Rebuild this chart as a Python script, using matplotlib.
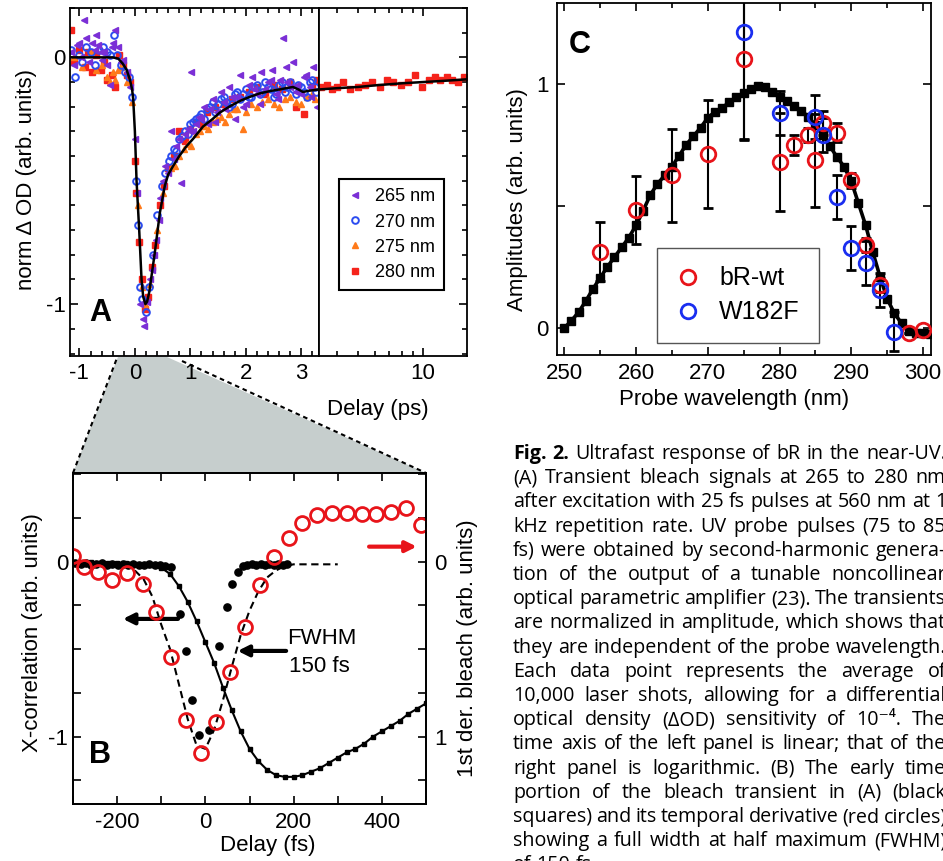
import matplotlib
matplotlib.use("Agg")
import numpy as np
import matplotlib.pyplot as plt
from matplotlib.patches import Polygon
from matplotlib.lines import Line2D
from matplotlib.ticker import MultipleLocator, FixedLocator, NullFormatter

plt.rcParams['font.family'] = ['Liberation Sans', 'DejaVu Sans']
plt.rcParams['axes.unicode_minus'] = False
plt.rcParams['axes.linewidth'] = 1.3

W, H = 943, 861

#%% DATA
# (A) normalized transient bleach, delay in ps
t_265 = [-1.15, -1.1, -1.05, -0.98, -0.92, -0.88, -0.82, -0.78, -0.72, -0.66, -0.6, -0.55, -0.5, -0.45, -0.4, -0.35, -0.3, -0.22, -0.15, -0.08,
         0.0, 0.03, 0.1, 0.14, 0.16, 0.22, 0.27, 0.3, 0.35, 0.38, 0.43, 0.46, 0.5, 0.55, 0.6,
         0.66, 0.75, 0.8, 0.84, 0.95, 1.02, 1.05, 1.15, 1.25, 1.32, 1.4, 1.48, 1.55, 1.62, 1.7, 1.8, 1.85, 1.9, 2.0, 2.05,
         2.12, 2.2, 2.28, 2.35, 2.4, 2.48, 2.55, 2.62, 2.67, 2.72, 2.8, 2.85, 2.92, 3.0, 3.08, 3.15, 3.22, 3.28,
         0.7, 0.9, 1.0, 1.1, 1.2, 1.35, 1.45, 1.6, 1.75, 1.95, 2.15, 2.25, 2.45, 2.58, 2.75, 2.9, 3.05, 3.18,
         -1.0, -0.7, -0.62, -0.42, -0.25]
dod_265 = [0.02, -0.03, 0.05, 0.0, 0.15, 0.08, -0.02, 0.06, 0.03, 0.05, -0.01, 0.02, -0.03, -0.11, 0.06, 0.11, 0.04, -0.01, -0.06, -0.12,
           -0.33, -0.55, -1.0, -1.06, -1.09, -0.99, -0.9, -0.86, -0.8, -0.74, -0.66, -0.57, -0.5, -0.44, -0.47,
           -0.3, -0.36, -0.33, -0.51, -0.29, -0.06, -0.3, -0.24, -0.2, -0.27, -0.17, -0.22, -0.14, -0.21, -0.12, -0.25, -0.16, -0.07, -0.19, -0.11,
           -0.08, -0.15, -0.06, -0.13, -0.1, -0.05, -0.15, -0.09, 0.08, -0.04, -0.12, -0.02, -0.11, -0.15, -0.07, -0.12, -0.04, -0.2,
           -0.41, -0.31, -0.3, -0.27, -0.25, -0.21, -0.26, -0.18, -0.16, -0.2, -0.13, -0.19, -0.09, -0.17, -0.1, -0.14, -0.08, -0.16,
           0.06, 0.09, 0.02, 0.04, -0.02]

t_270 = [-1.15, -1.08, -1.0, -0.95, -0.88, -0.8, -0.72, -0.65, -0.58, -0.5, -0.44, -0.38, -0.32, -0.25, -0.18, -0.1,
         -0.05, 0.02, 0.05, 0.1, 0.13, 0.2, 0.25, 0.32, 0.4, 0.48, 0.55, 0.62,
         0.7, 0.8, 0.9, 1.0, 1.1, 1.2, 1.3, 1.4, 1.5, 1.6, 1.7, 1.8, 1.9, 2.0, 2.1, 2.2, 2.3, 2.4, 2.5, 2.6, 2.7, 2.8,
         2.9, 3.0, 3.1, 3.2, 3.27,
         0.65, 0.75, 0.85, 0.95, 1.05, 1.15, 1.25, 1.35, 1.45, 1.55, 1.65, 1.75, 1.85, 1.95, 2.05, 2.15, 2.25, 2.35,
         2.45, 2.55, 2.65, 2.75, 2.85, 2.95, 3.05, 3.15, 3.25]
dod_270 = [0.03, -0.08, 0.01, -0.02, 0.04, 0.02, -0.03, 0.03, 0.04, 0.02, 0.01, 0.09, 0.01, -0.03, -0.06, -0.08,
           -0.16, -0.5, -0.68, -0.93, -0.98, -1.03, -0.93, -0.8, -0.64, -0.52, -0.47, -0.42,
           -0.37, -0.33, -0.3, -0.27, -0.25, -0.23, -0.21, -0.18, -0.19, -0.16, -0.2, -0.15, -0.17, -0.13, -0.16, -0.11, -0.14, -0.12, -0.16, -0.11, -0.14, -0.1,
           -0.15, -0.12, -0.16, -0.09, -0.14,
           -0.4, -0.38, -0.32, -0.31, -0.26, -0.24, -0.25, -0.2, -0.22, -0.17, -0.18, -0.19, -0.14, -0.15, -0.16, -0.12, -0.15, -0.1,
           -0.13, -0.15, -0.1, -0.12, -0.13, -0.11, -0.14, -0.1, -0.12]

t_275 = [-1.1, -0.95, -0.8, -0.7, -0.6, -0.5, -0.45, -0.4, -0.35, -0.3, -0.25, -0.15, -0.05,
         0.05, 0.12, 0.18, 0.28, 0.4, 0.5,
         0.65, 0.8, 0.95, 1.1, 1.25, 1.4, 1.55, 1.7, 1.85, 1.95, 2.1, 2.3, 2.5, 2.7, 2.9, 3.1, 3.25,
         0.72, 0.88, 1.02, 1.18, 1.32, 1.48, 1.62, 1.78, 2.0, 2.2, 2.4, 2.6, 2.8, 3.0, 3.2]
dod_275 = [0.0, -0.04, 0.02, -0.05, -0.03, -0.08, -0.1, -0.06, -0.09, -0.05, -0.04, -0.1, -0.18,
           -0.6, -0.93, -1.0, -0.92, -0.7, -0.55,
           -0.45, -0.4, -0.35, -0.31, -0.28, -0.26, -0.24, -0.23, -0.21, -0.29, -0.19, -0.18, -0.19, -0.17, -0.18, -0.16, -0.17,
           -0.44, -0.37, -0.36, -0.3, -0.29, -0.25, -0.26, -0.21, -0.22, -0.2, -0.17, -0.2, -0.16, -0.19, -0.15]

t_280 = [-1.16, -1.1, -1.0, -0.9, -0.85, -0.78, -0.7, -0.62, -0.55, -0.5, -0.42, -0.35, -0.28, -0.22, -0.15, -0.08,
         0.0, 0.02, 0.08, 0.12, 0.18, 0.24, 0.3, 0.36, 0.45, 0.52,
         0.6, 0.7, 0.8, 0.9, 1.0, 1.1, 1.2, 1.3, 1.45, 1.6, 1.75, 1.9, 2.05, 2.2, 2.35, 2.5, 2.65, 2.8, 2.9, 3.05, 3.2, 3.28,
         3.4, 3.6, 3.8, 4.0, 4.3, 4.6, 5.0, 5.4, 5.8, 6.3, 6.8, 7.3, 7.9, 8.5, 9.2, 9.9, 10.6, 11.3, 12.0, 12.8, 13.6, 14.5, 15.4]
dod_280 = [0.11, -0.02, 0.03, -0.04, 0.02, -0.06, 0.01, -0.05, -0.02, -0.09, -0.07, -0.12, 0.01, -0.03, -0.07, -0.1,
           -0.42, -0.55, -0.75, -0.9, -1.02, -0.97, -0.85, -0.76, -0.6, -0.52,
           -0.45, -0.4, -0.3, -0.34, -0.29, -0.26, -0.27, -0.22, -0.2, -0.19, -0.17, -0.16, -0.14, -0.12, -0.15, -0.11, -0.13, -0.1, -0.2, -0.23, -0.12, -0.09,
           -0.12, -0.11, -0.13, -0.12, -0.1, -0.13, -0.12, -0.11, -0.1, -0.12, -0.09, -0.1, -0.11, -0.1, -0.07, -0.12, -0.09, -0.08, -0.09, -0.08, -0.09, -0.1, -0.08]

# global fit through all wavelengths
fit_t = [-1.17, -0.4, -0.3, -0.22, -0.15, -0.09, -0.05, -0.03, 0.0, 0.03, 0.08, 0.12, 0.15, 0.19, 0.22, 0.26, 0.31, 0.36,
         0.45, 0.54, 0.6, 0.69, 0.8, 0.93, 1.05, 1.23, 1.4, 1.53, 1.7, 1.89, 2.05, 2.25, 2.45, 2.61, 2.75, 2.85, 2.95,
         3.03, 3.15, 3.32, 4.0, 5.0, 6.1, 8.0, 10.0, 12.5, 15.9]
fit_y = [0.0, 0.0, -0.005, -0.025, -0.05, -0.09, -0.13, -0.17, -0.3, -0.5, -0.71, -0.9, -0.97, -1.0, -0.99, -0.95, -0.87, -0.79,
         -0.63, -0.52, -0.475, -0.44, -0.4, -0.36, -0.33, -0.28, -0.25, -0.224, -0.2, -0.177, -0.162, -0.146, -0.136, -0.13, -0.124, -0.12, -0.13,
         -0.14, -0.135, -0.13, -0.125, -0.12, -0.113, -0.105, -0.1, -0.095, -0.089]

# (B) early-time bleach (fs), cross-correlation and derivative
bleach_fs = [-300, -280, -260, -240, -220, -200, -180, -160, -140, -120, -100, -80, -60, -40, -20, 0, 20, 40, 60, 80,
             100, 120, 140, 160, 180, 200, 220, 240, 260, 280, 300, 320, 340, 360, 380, 400, 420, 440, 460, 480, 500]
bleach = [0.0, 0.0, 0.0, -0.005, -0.01, -0.01, -0.01, -0.015, -0.02, -0.02, -0.035, -0.07, -0.14, -0.23, -0.34, -0.46, -0.58, -0.72, -0.85, -0.97,
          -1.07, -1.14, -1.19, -1.22, -1.23, -1.23, -1.22, -1.2, -1.18, -1.15, -1.12, -1.09, -1.07, -1.04, -1.0, -0.97, -0.94, -0.91, -0.87, -0.84, -0.81]

xcorr_fs = [-295, -283, -271, -259, -247, -235, -223, -211, -199, -187, -175, -163, -151, -139, -127, -115, -103, -91, -79,
            -58, -45, -30, -15, 8, 32, 50, 60, 74,
            85, 95, 105, 115, 125, 135, 145, 155, 165, 175, 185]
xcorr = [-0.01, -0.015, -0.01, -0.02, -0.015, -0.01, -0.02, -0.015, -0.02, -0.015, -0.02, -0.015, -0.02, -0.02, -0.015, -0.02, -0.02, -0.025, -0.03,
         -0.3, -0.51, -0.79, -0.99, -0.96, -0.48, -0.26, -0.13, -0.06,
         -0.025, -0.02, -0.015, -0.02, -0.015, -0.02, -0.015, -0.02, -0.015, -0.02, -0.015]

gauss_fs = [-160, -140, -120, -100, -80, -60, -40, -20, 0, 20, 40, 60, 80, 100, 120, 140, 160, 180, 200, 300]
gauss = [-0.05, -0.1, -0.2, -0.36, -0.5, -0.7, -0.9, -1.05, -1.07, -0.96, -0.79, -0.6, -0.42, -0.28, -0.17, -0.09, -0.05, -0.025, -0.015, -0.015]

deriv_fs = [-300, -276, -244, -212, -178, -142, -111, -77, -43, -11, 23, 56, 89, 123, 155, 190, 220, 254, 288, 322, 356, 386, 420, 454, 488]
deriv = [-0.03, 0.03, 0.057, 0.105, 0.067, 0.13, 0.285, 0.543, 0.905, 1.095, 0.914, 0.629, 0.371, 0.133, -0.029, -0.134, -0.223, -0.267, -0.277, -0.277, -0.271, -0.271, -0.286, -0.305, -0.21]

# (C) amplitude spectra
c_wl = [250, 251, 252, 253, 254, 255, 256, 257, 258, 259, 260, 261, 262, 263, 264, 265, 266, 267, 268, 269, 270, 271, 272, 273, 274, 275,
        276, 277, 278, 279, 280, 281, 282, 283, 284, 285, 286, 287, 288, 289, 290, 291, 292, 293, 294, 295, 296, 297, 298, 299, 300, 301]
c_amp = [0.0, 0.03, 0.065, 0.11, 0.16, 0.205, 0.25, 0.29, 0.33, 0.37, 0.42, 0.48, 0.545, 0.59, 0.625, 0.66, 0.705, 0.75, 0.785, 0.82, 0.86, 0.885, 0.9, 0.925, 0.945, 0.96,
         0.98, 0.99, 0.985, 0.965, 0.945, 0.93, 0.91, 0.89, 0.865, 0.83, 0.79, 0.745, 0.7, 0.66, 0.6, 0.51, 0.42, 0.31, 0.21, 0.12, 0.06, 0.02, -0.01, -0.02, -0.02, -0.025]

wt_wl = [255, 260, 265, 270, 275, 280, 282, 284, 285, 286, 288, 290, 292, 294, 298, 300]
wt_amp = [0.313, 0.483, 0.626, 0.712, 1.102, 0.68, 0.748, 0.79, 0.687, 0.84, 0.80, 0.605, 0.34, 0.177, -0.02, -0.007]
wt_err = [0.12, 0.14, 0.19, 0.22, 0.33, 0.2, 0.04, 0.03, 0.19, 0.05, 0.04, 0.03, 0.03, 0.03, 0.0, 0.0]

mut_wl = [275, 280, 285, 286, 288, 290, 292, 294, 296]
mut_amp = [1.211, 0.88, 0.864, 0.79, 0.537, 0.327, 0.265, 0.156, -0.014]
mut_err = [0.44, 0.09, 0.09, 0.07, 0.09, 0.09, 0.09, 0.07, 0.08]

caption = [
    "Fig. 2. Ultrafast response of bR in the near-UV.",
    "(A) Transient bleach signals at 265 to 280 nm",
    "after excitation with 25 fs pulses at 560 nm at 1",
    "kHz repetition rate. UV probe pulses (75 to 85",
    "fs) were obtained by second-harmonic genera-",
    "tion of the output of a tunable noncollinear",
    "optical parametric amplifier (23). The transients",
    "are normalized in amplitude, which shows that",
    "they are independent of the probe wavelength.",
    "Each data point represents the average of",
    "10,000 laser shots, allowing for a differential",
    "optical density (\u0394OD) sensitivity of 10\u207b\u2074. The",
    "time axis of the left panel is linear; that of the",
    "right panel is logarithmic. (B) The early time",
    "portion of the bleach transient in (A) (black",
    "squares) and its temporal derivative (red circles),",
    "showing a full width at half maximum (FWHM)",
    "of 150 fs.",
]

#%% FIGURE
fig = plt.figure(figsize=(W / 100, H / 100), dpi=100)


def rect(x0, y0, x1, y1):
    # pixel box (top-left origin) -> figure fraction
    return [x0 / W, 1 - y1 / H, (x1 - x0) / W, (y1 - y0) / H]


def fx(x):
    return x / W


def fy(y):
    return 1 - y / H


LBL = 16
RED = '#e8141a'
BLUE = '#1a2ef0'

# ---------- panel A ----------
axA = fig.add_axes(rect(70, 8, 319, 356))
axL = fig.add_axes(rect(319, 8, 467, 356))

a_series = [
    ('280 nm', t_280, dod_280, dict(marker='s', color='#f5231b', ms=4.4, ls='none')),
    ('275 nm', t_275, dod_275, dict(marker='^', color='#ff7a1a', ms=5, ls='none')),
    ('270 nm', t_270, dod_270, dict(marker='o', mfc='none', mec='#2b4cf0', mew=1.4, ms=4.8, ls='none')),
    ('265 nm', t_265, dod_265, dict(marker='<', color='#7b2fd6', ms=5, ls='none')),
]
for name, t, y, st in a_series:
    t = np.asarray(t)
    y = np.asarray(y)
    lin = t <= 3.32
    axA.plot(t[lin], y[lin], **st)
    axL.plot(t[~lin], y[~lin], **st)

ft = np.asarray(fit_t)
fyv = np.asarray(fit_y)
axA.plot(ft[ft <= 3.32], fyv[ft <= 3.32], color='k', lw=1.8, zorder=5)
axL.plot(ft[ft >= 3.32], fyv[ft >= 3.32], color='k', lw=1.8, zorder=5)

for ax in (axA, axL):
    ax.set_ylim(-1.21, 0.2)
    ax.set_yticks([-1, 0])
    ax.yaxis.set_minor_locator(MultipleLocator(0.1))
    ax.tick_params(which='both', direction='in', top=True, width=1.2, labelsize=LBL)
    ax.tick_params(which='major', length=6, pad=5)
    ax.tick_params(which='minor', length=3.5)

axA.set_xlim(-1.17, 3.32)
axA.set_xticks([-1, 0, 1, 2, 3])
axA.xaxis.set_minor_locator(MultipleLocator(0.2))
axA.tick_params(axis='y', which='both', right=False, pad=3)

axL.set_xscale('log')
axL.set_xlim(3.32, 15.9)
axL.xaxis.set_major_locator(FixedLocator([10]))
axL.set_xticklabels(['10'])
axL.xaxis.set_minor_locator(FixedLocator([4, 5, 6, 7, 8, 9]))
axL.xaxis.set_minor_formatter(NullFormatter())
axL.tick_params(axis='y', which='both', left=False, labelleft=False, right=True)

handles = [Line2D([], [], **st) for _, _, _, st in a_series[::-1]]
labels = [name for name, _, _, _ in a_series[::-1]]
legA = axL.legend(handles, labels, loc='lower left', bbox_to_anchor=(0.135, 0.19), borderaxespad=0,
                  fontsize=13, fancybox=False, edgecolor='k', framealpha=1, handlelength=0.8,
                  handletextpad=0.7, borderpad=0.5, labelspacing=0.45)
legA.get_frame().set_linewidth(1.5)

fig.text(fx(100), fy(313), 'A', fontsize=22, fontweight='bold', ha='center', va='center')
fig.text(fx(27), fy(180), 'norm \u0394 OD (arb. units)', rotation=90, fontsize=LBL, ha='center', va='center')
fig.text(fx(378), fy(409), 'Delay (ps)', fontsize=LBL, ha='center', va='center')

# zoom wedge from A down to B
wedge = Polygon([[fx(118), fy(357)], [fx(167), fy(357)], [fx(426), fy(473)], [fx(73), fy(473)]],
                closed=True, transform=fig.transFigure, facecolor='#c6cecd', edgecolor='none', zorder=-1)
fig.add_artist(wedge)
fig.add_artist(Line2D([fx(73), fx(117)], [fy(473), fy(358)], transform=fig.transFigure,
                      color='k', lw=1.5, ls=(0, (2.2, 1.8)), zorder=-0.5))
fig.add_artist(Line2D([fx(182), fx(426)], [fy(361), fy(473)], transform=fig.transFigure,
                      color='k', lw=1.5, ls=(0, (2.2, 1.8)), zorder=-0.5))

# ---------- panel B ----------
axB = fig.add_axes(rect(73, 473, 426, 804))
axB.plot(bleach_fs, bleach, color='k', lw=1.5, marker='s', ms=3)
axB.plot(xcorr_fs, xcorr, 'o', color='k', ms=5.2, ls='none')
axB.plot(gauss_fs, gauss, color='k', lw=1.5, ls=(0, (3.5, 2.2)))
axB.set_xlim(-300, 500)
axB.set_ylim(-1.385, 0.507)
axB.set_xticks([-200, 0, 200, 400])
axB.xaxis.set_minor_locator(MultipleLocator(100))
axB.set_yticks([-1, 0])
axB.yaxis.set_minor_locator(MultipleLocator(0.25))
axB.tick_params(which='both', direction='in', top=True, right=False, width=1.2, length=6, labelsize=LBL)
axB.tick_params(axis='x', pad=6)

axBr = axB.twinx()
axBr.plot(deriv_fs, deriv, 'o', mfc='none', mec=RED, mew=2, ms=10, ls='none')
axBr.set_ylim(1.385, -0.507)
axBr.set_yticks([0, 1])
axBr.yaxis.set_minor_locator(MultipleLocator(0.25))
axBr.tick_params(which='both', direction='in', width=1.2, length=6, labelsize=LBL, pad=6)

arrow = dict(arrowstyle='-|>', lw=3, mutation_scale=16, shrinkA=0, shrinkB=0)
axB.annotate('', xy=(-187, -0.327), xytext=(-62, -0.327), arrowprops=dict(arrow, color='k'))
axB.annotate('', xy=(479, 0.086), xytext=(371, 0.086), arrowprops=dict(arrow, color=RED))
axB.annotate('', xy=(73, -0.51), xytext=(183, -0.51), arrowprops=dict(arrow, color='k'))
axB.text(186, -0.44, 'FWHM', fontsize=LBL, ha='left', va='center')
axB.text(190, -0.6, '150 fs', fontsize=LBL, ha='left', va='center')

fig.text(fx(100), fy(755), 'B', fontsize=22, fontweight='bold', ha='center', va='center')
fig.text(fx(33), fy(633), 'X-correlation (arb. units)', rotation=90, fontsize=LBL, ha='center', va='center')
fig.text(fx(467), fy(648), '1st der. bleach (arb. units)', rotation=90, fontsize=LBL, ha='center', va='center')
fig.text(fx(268), fy(845), 'Delay (fs)', fontsize=LBL, ha='center', va='center')

# ---------- panel C ----------
axC = fig.add_axes(rect(557, 3, 931, 355))
axC.plot(c_wl, c_amp, color='k', lw=2.6, marker='s', ms=5.5, zorder=2)
axC.errorbar(wt_wl, wt_amp, yerr=wt_err, fmt='o', mfc='none', mec=RED, mew=2, ms=10.5,
             ecolor='k', elinewidth=1.5, capsize=3.5, capthick=1.5, zorder=3)
axC.errorbar(mut_wl, mut_amp, yerr=mut_err, fmt='o', mfc='none', mec=BLUE, mew=2, ms=10.5,
             ecolor='k', elinewidth=1.5, capsize=3.5, capthick=1.5, zorder=3)
axC.set_xlim(249, 301.1)
axC.set_ylim(-0.11, 1.33)
axC.set_xticks([250, 260, 270, 280, 290, 300])
axC.xaxis.set_minor_locator(MultipleLocator(5))
axC.set_yticks([0, 0.5, 1])
axC.set_yticklabels(['0', '', '1'])
axC.tick_params(which='both', direction='in', top=True, right=True, width=1.2, labelsize=LBL)
axC.tick_params(which='major', length=6, pad=6)
axC.tick_params(which='minor', length=3.5)

c_handles = [Line2D([], [], marker='o', mfc='none', mec=RED, mew=2, ms=10.5, ls='none'),
             Line2D([], [], marker='o', mfc='none', mec=BLUE, mew=2, ms=10.5, ls='none')]
legC = axC.legend(c_handles, ['bR-wt', 'W182F'], loc='lower left', bbox_to_anchor=(0.267, 0.034),
                  borderaxespad=0, fontsize=18, fancybox=False, edgecolor='#555555', framealpha=1,
                  handlelength=1.0, handletextpad=0.75, borderpad=0.75, labelspacing=0.4)
legC.get_frame().set_linewidth(1.0)

fig.text(fx(580), fy(45), 'C', fontsize=22, fontweight='bold', ha='center', va='center')
fig.text(fx(517), fy(200), 'Amplitudes (arb. units)', rotation=90, fontsize=LBL, ha='center', va='center')
fig.text(fx(734), fy(399), 'Probe wavelength (nm)', fontsize=LBL, ha='center', va='center')

# ---------- caption, justified word by word ----------
cap_font = ['Open Sans', 'DejaVu Sans']
renderer = fig.canvas.get_renderer()
x_left, x_right = 513, 946
for i, line in enumerate(caption):
    y = fy(459 + i * 24.2)
    words = line.split(' ')
    arts = []
    for j, w in enumerate(words):
        bold = (i == 0 and j < 2)
        arts.append(fig.text(0, y, w, fontsize=14.2, family=cap_font,
                             fontweight='bold' if bold else 'normal', va='baseline'))
    widths = [a.get_window_extent(renderer).width for a in arts]
    if i == len(caption) - 1:
        gap = 5
    else:
        gap = max(4.0, (x_right - x_left - sum(widths)) / (len(words) - 1))
    x = x_left
    for a, w in zip(arts, widths):
        a.set_x(fx(x))
        x += w + gap

fig.savefig('out.png', dpi=100)
